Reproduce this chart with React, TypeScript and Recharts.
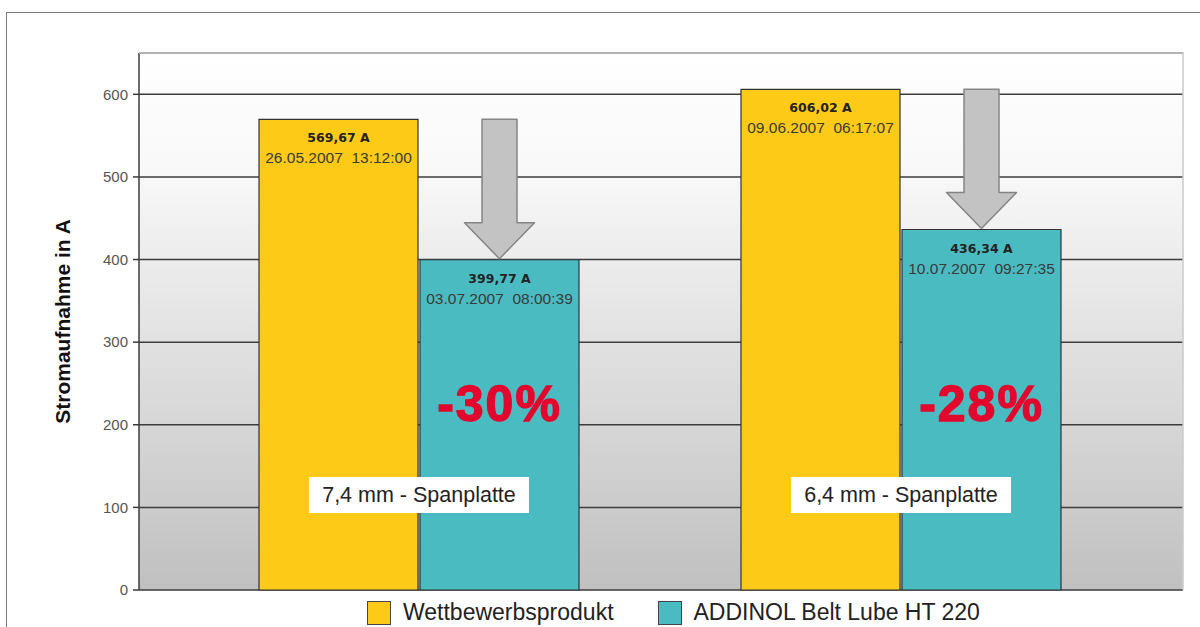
import { Bar, BarChart, CartesianGrid, LabelList, Legend, XAxis, YAxis } from "recharts"

const categories = ["7,4 mm - Spanplatte", "6,4 mm - Spanplatte"]
const wettbewerb = [569.67, 606.02]
const addinol = [399.77, 436.34]
const wettDates = ["26.05.2007  13:12:00", "09.06.2007  06:17:07"]
const addinolDates = ["03.07.2007  08:00:39", "10.07.2007  09:27:35"]
const savings = ["-30%", "-28%"]
const yTicks = [0, 100, 200, 300, 400, 500, 600]

const data = categories.map((name, i) => ({
  name,
  wett: wettbewerb[i],
  addinol: addinol[i],
}))

const FONT = "'Liberation Sans', Arial, sans-serif"
const YELLOW = "#FDCB17"
const TEAL = "#4BBBC2"
const seriesOrder = ["wett", "addinol"]

const CHART_W = 1200
const CHART_H = 627
const MARGIN = { top: 53, right: 17, bottom: 37, left: 0 }

const fmt = (v: number) => v.toFixed(2).replace(".", ",") + " A"

// value + timestamp printed at the top of each bar
function TopLabel(props: any, dates: string[]) {
  const { x, y, width, value, index } = props
  const cx = x + width / 2
  return (
    <g style={{ whiteSpace: "pre" }}>
      <text x={cx} y={y + 23} textAnchor="middle" fontFamily="'DejaVu Sans', Verdana, sans-serif" fontSize={12.5} fontWeight="bold" fill="#222">
        {fmt(value)}
      </text>
      <text x={cx} y={y + 44} textAnchor="middle" fontFamily={FONT} fontSize={15.5} fill="#3a3a3a" xmlSpace="preserve">
        {dates[index]}
      </text>
    </g>
  )
}

// arrow, percentage and category box sit on the ADDINOL bar
function AddinolExtras(props: any) {
  const { x, y, width, height, value, index } = props
  const k = height / value
  const base = y + height
  const cx = x + width / 2
  const top = base - wettbewerb[index] * k
  const tip = y - 1
  const headBase = tip - 36
  const path = `M${cx - 17.5},${top} L${cx + 17.5},${top} L${cx + 17.5},${headBase} L${cx + 35},${headBase} L${cx},${tip} L${cx - 35},${headBase} L${cx - 17.5},${headBase} Z`
  const groupX = x - 1
  const boxY = base - 115 * k
  return (
    <g fontFamily={FONT}>
      <path d={path} fill="#c3c3c3" stroke="#858585" strokeWidth={1.5} strokeLinejoin="round" />
      <text
        x={cx}
        y={base - 226 * k}
        dy={18}
        textAnchor="middle"
        fontSize={50}
        fontWeight="bold"
        letterSpacing={2}
        fill="#E3072D"
        stroke="#E3072D"
        strokeWidth={1.4}
      >
        {savings[index]}
      </text>
      <rect x={groupX - 110} y={boxY - 18} width={220} height={36} fill="#fff" />
      <text x={groupX} y={boxY} dy={7} textAnchor="middle" fontSize={21.5} fill="#222">
        {categories[index]}
      </text>
    </g>
  )
}

// y-axis title plus the light frame on top / right of the plot area
function AxisTitle(p: any) {
  const { x, y, width, height } = p.viewBox
  const cy = y + height / 2
  const left = x + width
  const right = CHART_W - MARGIN.right
  return (
    <g>
      <path d={`M${left},${y} L${right},${y} L${right},${y + height}`} fill="none" stroke="#cacaca" strokeWidth={1.5} />
      <text
        x={62}
        y={cy}
        transform={`rotate(-90 62 ${cy})`}
        textAnchor="middle"
        dominantBaseline="central"
        fontFamily={FONT}
        fontSize={21}
        fontWeight="bold"
        fill="#111"
      >
        Stromaufnahme in A
      </text>
    </g>
  )
}

function LegendContent(props: any) {
  const items = [...props.payload].sort(
    (a: any, b: any) => seriesOrder.indexOf(a.dataKey) - seriesOrder.indexOf(b.dataKey)
  )
  return (
    <div style={{ display: "flex", alignItems: "center", paddingLeft: 367, fontFamily: FONT, fontSize: 23, color: "#222" }}>
      {items.map((p: any, i: number) => (
        <div key={i} style={{ display: "flex", alignItems: "center", marginRight: 44 }}>
          <span style={{ width: 22, height: 22, background: p.color, border: "1.5px solid #444", marginRight: 12 }} />
          <span>{p.value}</span>
        </div>
      ))}
    </div>
  )
}

export default function App() {
  return (
    <div style={{ position: "absolute", left: 0, top: 0, width: CHART_W, height: CHART_H, background: "#fff", overflow: "hidden" }}>
      <div style={{ position: "absolute", left: 6, top: 12, width: 1300, height: 700, borderTop: "1.5px solid #7a7a7a", borderLeft: "1.5px solid #7a7a7a" }} />
      <BarChart
        width={CHART_W}
        height={CHART_H}
        data={data}
        margin={MARGIN}
        barSize={159}
        barGap={2}
        style={{ position: "absolute", left: 0, top: 0 }}
      >
        <defs>
          <linearGradient id="bg" x1="0" y1="0" x2="0" y2="1">
            <stop offset="0" stopColor="#ffffff" />
            <stop offset="0.22" stopColor="#f8f8f8" />
            <stop offset="1" stopColor="#c0c0c0" />
          </linearGradient>
        </defs>
        <CartesianGrid vertical={false} fill="url(#bg)" fillOpacity={1} stroke="#3c3c3c" strokeWidth={1.5} />
        <XAxis dataKey="name" hide padding={{ left: 39, right: 41 }} />
        <YAxis
          width={139}
          domain={[0, 650]}
          ticks={yTicks}
          interval={0}
          axisLine={{ stroke: "#3c3c3c", strokeWidth: 1.5 }}
          tickLine={{ stroke: "#3c3c3c", strokeWidth: 1.5 }}
          tickSize={6}
          tickMargin={5}
          tick={{ fill: "#555", fontSize: 15, fontFamily: FONT }}
          label={{ content: AxisTitle }}
        />
        <Legend
          layout="horizontal"
          verticalAlign="middle"
          align="center"
          wrapperStyle={{ top: 599, left: 0, width: CHART_W }}
          content={LegendContent}
        />
        <Bar dataKey="wett" name="Wettbewerbsprodukt" fill={YELLOW} stroke="#333" strokeWidth={1.2} isAnimationActive={false}>
          <LabelList dataKey="wett" content={(p: any) => TopLabel(p, wettDates)} />
        </Bar>
        <Bar dataKey="addinol" name="ADDINOL Belt Lube HT 220" fill={TEAL} stroke="#333" strokeWidth={1.2} isAnimationActive={false}>
          <LabelList dataKey="addinol" content={(p: any) => TopLabel(p, addinolDates)} />
          <LabelList dataKey="addinol" content={AddinolExtras} />
        </Bar>
      </BarChart>
    </div>
  )
}
